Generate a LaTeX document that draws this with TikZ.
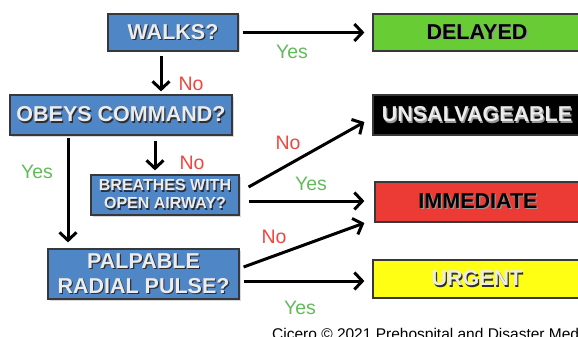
\documentclass[tikz,border=0pt]{standalone}
\usepackage{fontspec}
\setmainfont{Liberation Sans}
\usetikzlibrary{arrows.meta,shadows}
\definecolor{boxblue}{RGB}{79,134,198}
\definecolor{boxborder}{RGB}{55,55,60}
\definecolor{qtext}{RGB}{236,236,236}
\definecolor{qshadow}{RGB}{45,45,50}
\definecolor{lshadow}{RGB}{150,150,150}
\definecolor{dgreen}{RGB}{104,204,52}
\definecolor{dred}{RGB}{236,58,52}
\definecolor{dyellow}{RGB}{255,255,20}
\definecolor{yesgreen}{RGB}{98,186,90}
\definecolor{nored}{RGB}{238,70,62}
\newcommand{\shtx}[2]{\makebox[0pt][l]{\hspace{1.2pt}\raisebox{-1.2pt}{\color{#2}#1}}#1}
\begin{document}
\begin{tikzpicture}[x=1pt,y=-1pt,
  box/.style={draw=boxborder, line width=1.2pt, inner sep=0pt, align=center,
    font=\fontsize{21.5}{25}\selectfont\bfseries},
  qbox/.style={box, fill=boxblue, text=qtext,
    drop shadow={shadow xshift=1.5pt,shadow yshift=-1.5pt,opacity=0.3}},
  arr/.style={line width=3pt, -{Straight Barb[length=8pt,width=17pt]}},
  yes/.style={text=yesgreen, inner sep=0pt, font=\fontsize{19.5}{20}\selectfont},
  no/.style={text=nored, inner sep=0pt, font=\fontsize{19.5}{20}\selectfont},
]
\useasboundingbox (0,0) rectangle (578,337);
\clip (0,0) rectangle (578,337);

% question boxes
\node[qbox, minimum width=130pt, minimum height=37pt] (walks) at (173,32.5) {\shtx{WALKS?}{qshadow}};
\node[qbox, minimum width=222pt, minimum height=40pt] (obeys) at (121,115) {\shtx{OBEYS COMMAND?}{qshadow}};
\node[qbox, minimum width=148pt, minimum height=40pt, font=\fontsize{16}{18}\selectfont\bfseries] (breathes) at (165,195)
  {\shtx{BREATHES WITH}{qshadow}\\\shtx{OPEN AIRWAY?}{qshadow}};
\node[qbox, minimum width=191pt, minimum height=50pt] (pulse) at (143.5,274)
  {\shtx{PALPABLE}{qshadow}\\\shtx{RADIAL PULSE?}{qshadow}};

% outcome boxes
\node[box, fill=dgreen, text=black, minimum width=208pt, minimum height=37pt] (delayed) at (477,32.5) {\shtx{DELAYED}{lshadow}};
\node[box, fill=black, text=qtext, minimum width=208pt, minimum height=40pt] (unsalv) at (477,115) {\shtx{UNSALVAGEABLE}{lshadow}};
\node[box, fill=dred, text=black, minimum width=206pt, minimum height=40pt] (immediate) at (478,202) {\shtx{IMMEDIATE}{lshadow}};
\node[box, fill=dyellow, text=qtext, minimum width=208pt, minimum height=38pt] (urgent) at (477,279) {\shtx{URGENT}{qshadow}};

% connectors
\draw[arr] ([xshift=4pt]walks.east) -- ([xshift=-8pt]delayed.west);
\draw[arr] ([xshift=-12pt,yshift=-4pt]walks.south) -- ([xshift=40pt,yshift=3pt]obeys.north);
\draw[arr] ([xshift=34pt,yshift=-5pt]obeys.south) -- ([xshift=-10pt,yshift=4pt]breathes.north);
\draw[arr] ([xshift=-53pt,yshift=-2pt]obeys.south) -- ([xshift=-75.5pt,yshift=6pt]pulse.north);
\draw[arr] ([xshift=9pt,yshift=8pt]breathes.east) -- ([xshift=-8pt,yshift=-7pt]unsalv.west);
\draw[arr] ([xshift=9pt,yshift=-6pt]breathes.east) -- ([xshift=-10pt,yshift=1pt]immediate.west);
\draw[arr] ([xshift=4pt,yshift=7pt]pulse.east) -- ([xshift=-10pt,yshift=-21pt]immediate.west);
\draw[arr] ([xshift=4pt,yshift=-7pt]pulse.east) -- ([xshift=-8pt,yshift=-2pt]urgent.west);

% labels
\node[yes] (y1) at (292,52) {Yes};
\node[no] (n1) at (191,84) {No};
\node[no] (n2) at (192,163) {No};
\node[yes] (y2) at (37,172) {Yes};
\node[no] (n3) at (288,143) {No};
\node[yes] (y3) at (311,184) {Yes};
\node[no] (n4) at (274,237) {No};
\node[yes] (y4) at (300,308) {Yes};

% caption
\node[anchor=base west, inner sep=0pt, font=\fontsize{15.5}{16}\selectfont] (cap) at (272,339)
  {Cicero \textcopyright{} 2021 Prehospital and Disaster Medicine};
\end{tikzpicture}
\end{document}
